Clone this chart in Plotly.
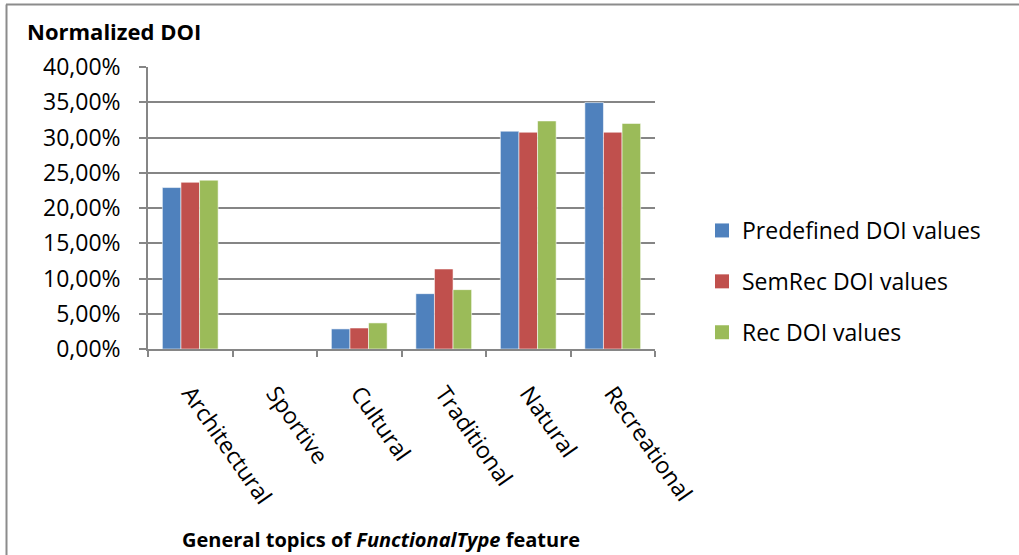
import plotly.graph_objects as go

# Normalized degree-of-interest per functional-type topic
categories = ["Architectural", "Sportive", "Cultural", "Traditional", "Natural", "Recreational"]
predefined_doi = [0.2290, 0.0, 0.0285, 0.0785, 0.3090, 0.3495]
semrec_doi = [0.2365, 0.0, 0.0298, 0.1135, 0.3075, 0.3075]
rec_doi = [0.2395, 0.0, 0.0370, 0.0842, 0.3235, 0.3200]

series_names = ["Predefined DOI values", "SemRec DOI values", "Rec DOI values"]
series_colors = ["#4F81BD", "#C0504D", "#9BBB59"]

W, H = 1019, 555
L, R, T, B = 148, 364, 67, 206
pw, ph = W - L - R, H - T - B


def px_x(px):
    return (px - L) / pw


def px_y(py):
    return (H - B - py) / ph


font_family = "Open Sans, Liberation Sans, sans-serif"

fig = go.Figure()
for i, (name, vals, col) in enumerate(zip(series_names, [predefined_doi, semrec_doi, rec_doi], series_colors)):
    fig.add_trace(go.Bar(
        x=categories, y=vals, name=name,
        marker=dict(color=col, line=dict(color="rgba(255,255,255,0.7)", width=0.8)),
        legendgroup=f"g{i}", showlegend=False,
    ))
    # legend entry with a larger square key
    fig.add_trace(go.Scatter(
        x=[None], y=[None], mode="markers", name=name,
        marker=dict(symbol="square", size=14, color=col),
        legendgroup=f"g{i}", showlegend=True, hoverinfo="skip",
    ))

fig.update_layout(
    width=W, height=H,
    margin=dict(l=L, r=R, t=T, b=B),
    paper_bgcolor="white", plot_bgcolor="white",
    separators=",.",
    barmode="group", bargap=0.34, bargroupgap=0,
    font=dict(family=font_family, color="black", size=23),
    showlegend=True,
    legend=dict(
        x=px_x(702), y=px_y(209), xanchor="left", yanchor="top",
        font=dict(size=23, family=font_family), tracegroupgap=18,
        itemwidth=30,
    ),
    xaxis=dict(
        type="category", showgrid=False,
        showline=True, linecolor="#868686", linewidth=1.5,
        ticks="outside", tickson="boundaries", ticklen=6, tickcolor="#868686", tickwidth=1.5,
        tickangle=55, tickfont=dict(size=23, family=font_family),
        ticklabelstandoff=20,
    ),
    yaxis=dict(
        range=[0, 0.40], dtick=0.05, tickformat=".2%",
        showgrid=True, gridcolor="#858585", gridwidth=1.6,
        showline=True, linecolor="#868686", linewidth=1.5,
        ticks="outside", ticklen=7, tickcolor="#868686", tickwidth=1.5,
        tickfont=dict(size=23, family=font_family),
        ticklabelstandoff=14,
        zeroline=False,
    ),
    annotations=[
        dict(text="<b>Normalized DOI</b>", xref="paper", yref="paper",
             x=px_x(25), y=px_y(31), xanchor="left", yanchor="middle",
             showarrow=False, font=dict(size=22, family=font_family)),
        dict(text="<b>General topics of <i>FunctionalType</i> feature</b>", xref="paper", yref="paper",
             x=px_x(381), y=px_y(539), xanchor="center", yanchor="middle",
             showarrow=False, font=dict(size=20, family=font_family)),
    ],
    shapes=[
        dict(type="line", xref="paper", yref="paper", x0=px_x(6), x1=px_x(1030),
             y0=px_y(4.5), y1=px_y(4.5), line=dict(color="#8c8c8c", width=2)),
        dict(type="line", xref="paper", yref="paper", x0=px_x(6.5), x1=px_x(6.5),
             y0=px_y(4.5), y1=px_y(570), line=dict(color="#8c8c8c", width=2)),
    ],
)

fig.write_html("out.html")
